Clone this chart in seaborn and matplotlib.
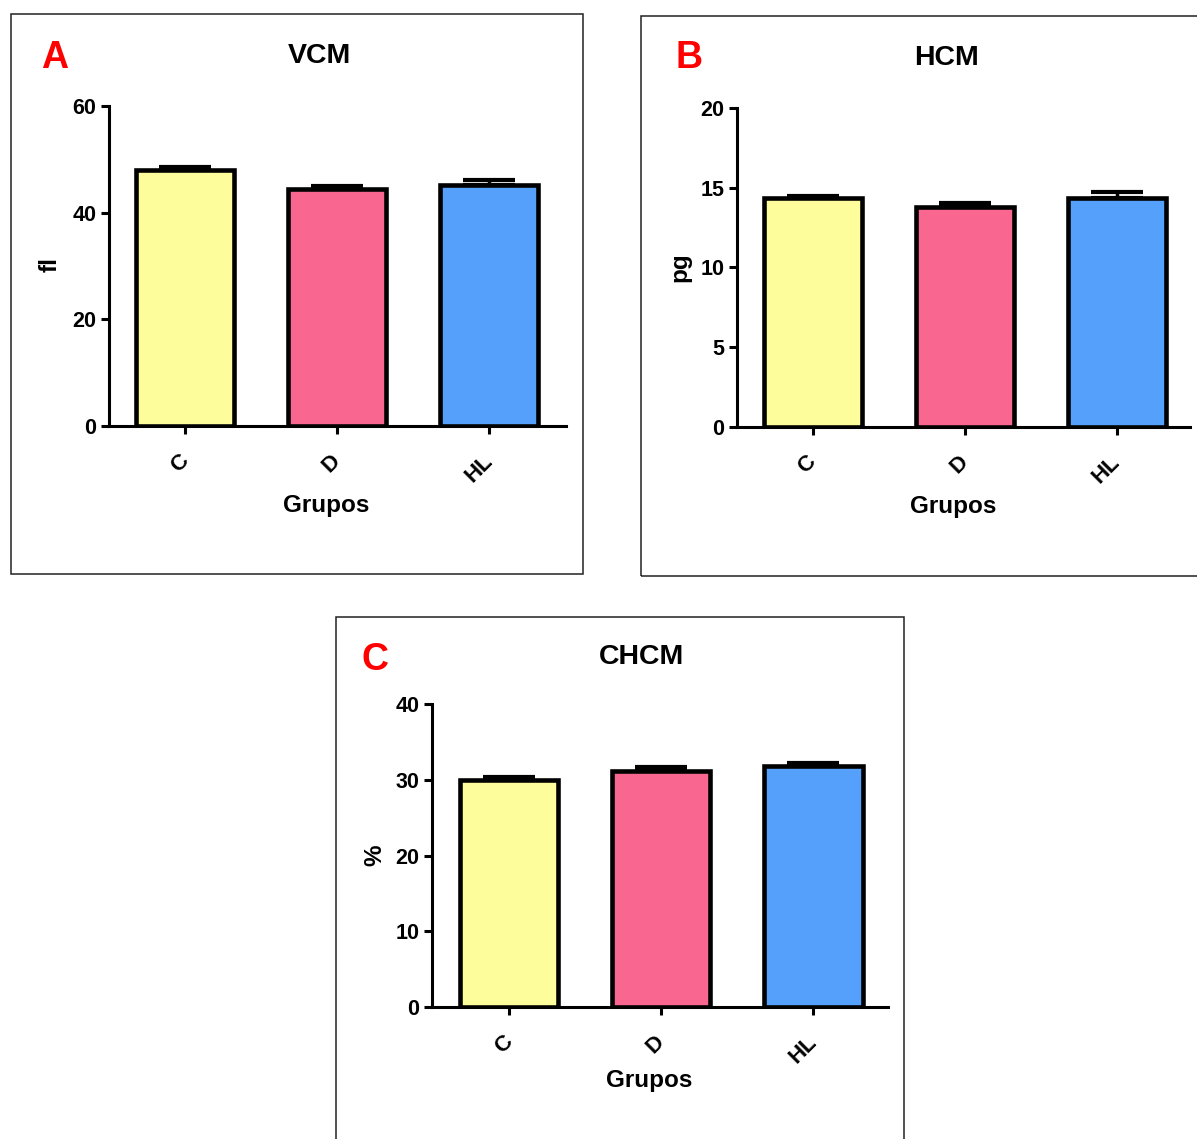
import matplotlib
matplotlib.use("Agg")
import matplotlib.pyplot as plt
import seaborn as sns
import pandas as pd
from matplotlib.patches import Rectangle

# Groups and measured means with their standard errors
groups = ["C", "D", "HL"]
vcm_mean = [47.9, 44.4, 45.2]
vcm_sem = [0.6, 0.6, 1.0]
hcm_mean = [14.33, 13.81, 14.35]
hcm_sem = [0.16, 0.21, 0.34]
chcm_mean = [30.0, 31.2, 31.9]
chcm_sem = [0.4, 0.55, 0.35]
bar_colors = ["#FDFD9B", "#F96790", "#55A0FB"]

sns.set_theme(style="white")
plt.rcParams["font.family"] = ["Liberation Sans", "DejaVu Sans"]
plt.rcParams["font.weight"] = "bold"

W, H = 1197, 1139
fig = plt.figure(figsize=(W / 100, H / 100), dpi=100)


def fx(x, y):
    return x / W, 1 - y / H


def panel(rect, letter, title, ylabel, means, sems, ymax, step, xlim,
          letter_xy, title_xy, xlabel_xy, ylabel_xy, box):
    # frame around the panel
    bx0, by0, bx1, by1 = box
    fig.patches.append(Rectangle(fx(bx0, by1), (bx1 - bx0) / W, (by1 - by0) / H,
                                 transform=fig.transFigure, fill=False,
                                 edgecolor="#222222", linewidth=1.1, zorder=0))
    ax = fig.add_axes(rect)
    ax.set_facecolor("none")
    df = pd.DataFrame({"Grupo": groups, "valor": means})
    sns.barplot(data=df, x="Grupo", y="valor", hue="Grupo", palette=bar_colors,
                saturation=1, width=0.645, edgecolor="black", linewidth=3.3,
                legend=False, errorbar=None, ax=ax, zorder=3)
    ax.errorbar(range(len(groups)), means, yerr=[[0] * len(groups), sems],
                fmt="none", ecolor="black", elinewidth=2.5, capsize=19,
                capthick=3, zorder=2)
    ax.set_xlim(*xlim)
    ax.set_ylim(0, ymax)
    ax.set_yticks(range(0, ymax + 1, step))
    ax.set_xticks(range(len(groups)))
    ax.set_xticklabels(groups, rotation=45, ha="right", va="center",
                       rotation_mode="anchor", fontsize=16, fontweight="bold")
    for lab in ax.get_yticklabels():
        lab.set_fontsize(15.5)
        lab.set_fontweight("bold")
    sns.despine(ax=ax)
    for side in ("left", "bottom"):
        ax.spines[side].set_linewidth(2.2)
        ax.spines[side].set_color("black")
        ax.spines[side].set_capstyle("projecting")
    ax.spines["left"].set_bounds(0, ymax)
    ax.tick_params(axis="y", left=True, direction="out", length=6, width=2.2,
                   pad=3, colors="black")
    ax.tick_params(axis="x", bottom=True, direction="out", length=6, width=2.2,
                   pad=17, colors="black")
    ax.set_xlabel("")
    ax.set_ylabel("")
    fig.text(*fx(*letter_xy), letter, color="#FF0000", fontsize=27,
             fontweight="bold", ha="center", va="center")
    fig.text(*fx(*title_xy), title, color="black", fontsize=20.5,
             fontweight="bold", ha="center", va="center")
    fig.text(*fx(*xlabel_xy), "Grupos", color="black", fontsize=17.5,
             fontweight="bold", ha="center", va="center")
    fig.text(*fx(*ylabel_xy), ylabel, color="black", fontsize=17.5,
             fontweight="bold", ha="center", va="center", rotation=90)
    return ax


panel([109 / W, 1 - 425.7 / H, 457 / W, 319.7 / H], "A", "VCM", "fl",
      vcm_mean, vcm_sem, 60, 20, (-0.502, 2.505),
      (55, 58), (319, 56), (326, 505), (50, 264), (11, 14, 583, 574))
panel([736.7 / W, 1 - 427 / H, 453.3 / W, 319.3 / H], "B", "HCM", "pg",
      hcm_mean, hcm_sem, 20, 5, (-0.502, 2.48),
      (689, 58), (946, 58), (953, 506), (680, 267), (641, 16, 1205, 576))
panel([431.7 / W, 1 - 1006.7 / H, 456.3 / W, 302.4 / H], "C", "CHCM", "%",
      chcm_mean, chcm_sem, 40, 10, (-0.509, 2.49),
      (375, 660), (641, 657), (649, 1081), (375, 855), (336, 617, 904, 1150))

fig.savefig("out.png", dpi=100, facecolor="white")
